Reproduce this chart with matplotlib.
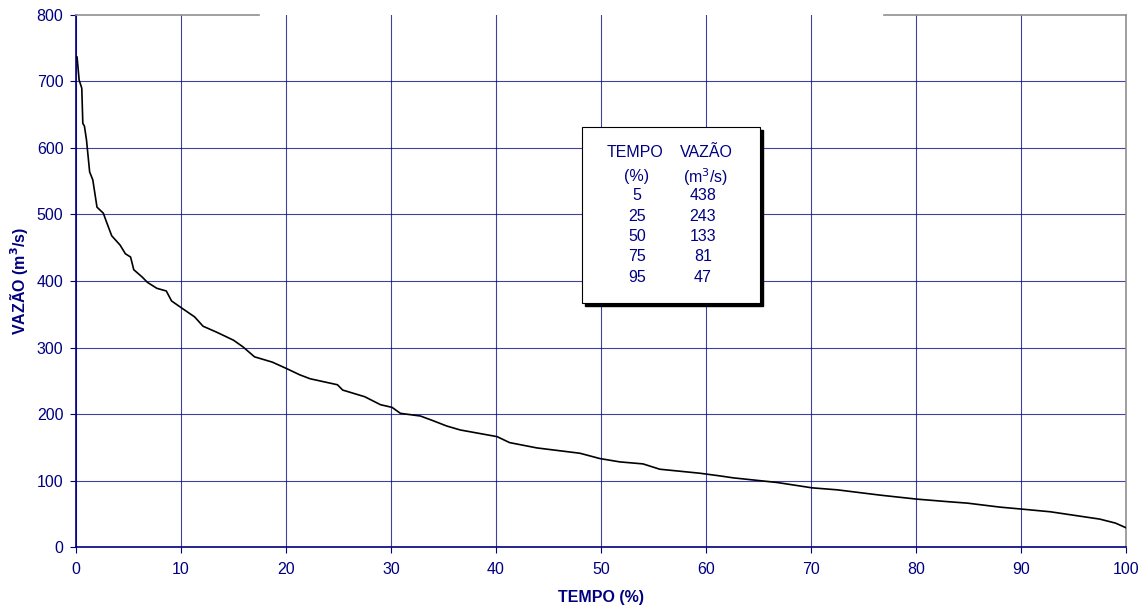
import matplotlib
matplotlib.use("Agg")
from matplotlib import pyplot as plt
from matplotlib.patches import Rectangle

# curva de permanencia
tempo = [0.0, 0.1, 0.3, 0.55, 0.65, 0.8, 1.0, 1.3, 1.6, 2.0, 2.6, 2.9, 3.4, 4.2, 4.7,
         5.2, 5.5, 6.3, 6.8, 7.7, 8.6, 9.1, 10.1, 11.3, 12.1, 13.4, 15.0, 15.9, 17.0,
         18.7, 20.1, 21.3, 22.3, 24.9, 25.4, 27.5, 29.0, 30.1, 30.9, 32.8, 34.0, 35.3,
         36.6, 40.1, 41.3, 43.9, 48.0, 49.9, 51.8, 54.0, 55.6, 59.4, 61.3, 62.6, 66.8,
         70.1, 72.5, 76.6, 80.1, 83.2, 84.9, 88.0, 90.1, 92.8, 97.5, 99.0, 100.0]
vazao = [737, 737, 702, 690, 637, 633, 612, 564, 552, 511, 502, 489, 468, 454, 441,
         436, 417, 406, 398, 389, 385, 370, 359, 346, 332, 323, 311, 301, 286,
         278, 268, 259, 253, 244, 236, 226, 214, 210, 201, 197, 190, 182,
         176, 166, 157, 149, 141, 133, 128, 125, 117, 111, 107, 104, 97,
         89, 86, 78, 72, 68, 66, 60, 57, 53, 42, 36, 29]

tab_tempo = ["5", "25", "50", "75", "95"]
tab_vazao = ["438", "243", "133", "81", "47"]

navy = "#000080"
plt.rcParams['font.family'] = ['Liberation Sans', 'DejaVu Sans']

fig = plt.figure(figsize=(11.48, 6.11), dpi=100)
ax = fig.add_axes([0.0662, 0.1047, 0.9146, 0.8708])

ax.plot(tempo, vazao, color='black', lw=1.2, zorder=3)

ax.set_xlim(0, 100)
ax.set_ylim(0, 800)
ax.set_xticks(range(0, 101, 10))
ax.set_yticks(range(0, 801, 100))
ax.grid(True, color=navy, lw=0.8, alpha=0.75)
ax.yaxis.get_gridlines()[-1].set_visible(False)  # sem linha no topo
ax.tick_params(colors=navy, labelsize=11.5, length=4, width=0.8, direction='out')
ax.tick_params(axis='y', pad=5)
ax.tick_params(axis='x', pad=7)
for lab in ax.get_xticklabels() + ax.get_yticklabels():
    lab.set_color(navy)

ax.spines['left'].set_color(navy)
ax.spines['bottom'].set_color(navy)
ax.spines['left'].set_linewidth(1.2)
ax.spines['bottom'].set_linewidth(1.2)
ax.spines['right'].set_color('#909090')
ax.spines['right'].set_linewidth(1.2)
ax.spines['top'].set_visible(False)
# borda superior parcial
for x0, x1 in [(0, 0.174), (0.770, 1.0)]:
    ax.plot([x0, x1], [1, 1], transform=ax.transAxes, color='#909090', lw=1.2,
            clip_on=False, zorder=4)

ax.set_xlabel("TEMPO (%)", fontsize=11.5, fontweight='bold', color=navy, labelpad=9)
ax.set_ylabel("VAZÃO (m$^\\mathbf{3}$/s)", fontsize=11.5, fontweight='bold', color=navy, labelpad=5)

# quadro com a tabela
bx0, bx1, by0, by1 = 0.482, 0.651, 0.4586, 0.789
sh = Rectangle((bx0 + 0.003, by0 - 0.006), bx1 - bx0, by1 - by0, transform=ax.transAxes,
               facecolor='black', edgecolor='black', zorder=5)
box = Rectangle((bx0, by0), bx1 - bx0, by1 - by0, transform=ax.transAxes,
                facecolor='white', edgecolor='black', lw=0.8, zorder=6)
ax.add_patch(sh)
ax.add_patch(box)

cx1 = (637 - 76) / 1050
cx2 = (706 - 76) / 1050

def ypix(py):
    return (547 - py) / 532

kw = dict(transform=ax.transAxes, ha='center', va='center', fontsize=11.5, color=navy, zorder=7)
ax.text(cx1 - 0.002, ypix(153), "TEMPO", **kw)
ax.text(cx2, ypix(153), "VAZÃO", **kw)
ax.text(cx1, ypix(177), "(%)", **kw)
ax.text(cx2, ypix(177), "(m$^3$/s)", **kw)
for i, (t, v) in enumerate(zip(tab_tempo, tab_vazao)):
    py = 196 + i * 20.3
    ax.text(cx1, ypix(py), t, **kw)
    ax.text(cx2 - 0.003, ypix(py), v, **kw)

fig.savefig("out.png", dpi=100)
